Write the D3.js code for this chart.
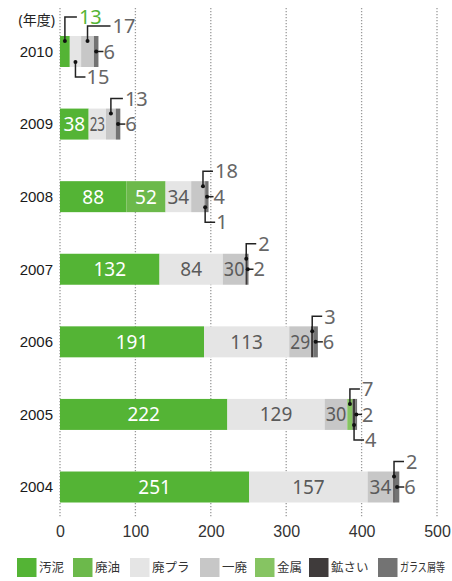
<!DOCTYPE html>
<html><head><meta charset="utf-8">
<script src="https://cdn.jsdelivr.net/npm/d3@7"></script>
<style>
html,body{margin:0;padding:0;background:#fff;}
svg{display:block;font-family:"Noto Sans","Noto Sans CJK JP",sans-serif;}
</style></head>
<body>
<svg id="chart" width="452" height="581"></svg>
<script>
// ---- data ----
const years = ["2010","2009","2008","2007","2006","2005","2004"];
const categories = ["汚泥","廃油","廃プラ","一廃","金属","鉱さい","ガラス屑等"];
const sludge   = [13, 38, 88, 132, 191, 222, 251];
const wasteOil = [0, 0, 52, 0, 0, 0, 0];
const plastic  = [15, 23, 34, 84, 113, 129, 157];
const general  = [17, 13, 18, 30, 29, 30, 34];
const metal    = [0, 0, 0, 0, 0, 7, 0];
const slag     = [0, 0, 1, 2, 3, 4, 2];
const glass    = [6, 6, 4, 2, 6, 2, 6];
const tickValues = [0, 100, 200, 300, 400, 500];
const yearTitle = "(年度)";

const seriesValues = [sludge, wasteOil, plastic, general, metal, slag, glass];
const colors = ["#54b435","#6cb94b","#e5e5e5","#c7c7c7","#86c462","#3f3b3b","#737373"];
const insideText = ["#fff","#fff","#5a5a5a","#5a5a5a","#fff","#fff","#fff"];

// callout placements (which value is labelled outside the bar, and where)
const callouts = [
  {year:"2010", cat:"汚泥", side:"above", level:2, len:12},
  {year:"2010", cat:"一廃", side:"above", level:1, len:23},
  {year:"2010", cat:"廃プラ", side:"below", len:10},
  {year:"2010", cat:"ガラス屑等", side:"right"},
  {year:"2009", cat:"一廃", side:"above", level:1, len:12},
  {year:"2009", cat:"ガラス屑等", side:"right"},
  {year:"2008", cat:"一廃", side:"above", level:1, len:10, dx:5},
  {year:"2008", cat:"ガラス屑等", side:"right"},
  {year:"2008", cat:"鉱さい", side:"below", len:10},
  {year:"2007", cat:"鉱さい", side:"above", level:1, len:10},
  {year:"2007", cat:"ガラス屑等", side:"right"},
  {year:"2006", cat:"鉱さい", side:"above", level:1, len:10},
  {year:"2006", cat:"ガラス屑等", side:"right"},
  {year:"2005", cat:"金属", side:"above", level:1, len:10},
  {year:"2005", cat:"ガラス屑等", side:"right"},
  {year:"2005", cat:"鉱さい", side:"below", len:10},
  {year:"2004", cat:"鉱さい", side:"above", level:1, len:10},
  {year:"2004", cat:"ガラス屑等", side:"right"}
];

// ---- layout ----
const svg = d3.select("#chart");
const x = d3.scaleLinear().domain([0, 500]).range([60, 437]);
const y = d3.scaleBand().domain(years).range([15.2, 523.3]).paddingInner(0.573).paddingOuter(0.2865);

// grid
svg.append("g").selectAll("line").data(tickValues).join("line")
  .attr("x1", d => x(d)).attr("x2", d => x(d))
  .attr("y1", 8).attr("y2", 518)
  .attr("stroke", "#9a9a9a").attr("stroke-width", 1.3).attr("stroke-dasharray", "1.3,1.7");

// x axis labels
const xAxis = d3.axisBottom(x).tickValues(tickValues).tickSize(0).tickPadding(0);
const gx = svg.append("g").attr("transform", "translate(0,525)").call(xAxis);
gx.select(".domain").remove();
gx.selectAll("text").attr("font-size", 16).attr("fill", "#333").attr("font-family", "inherit").attr("dy", "0.75em");

// y axis labels
const yAxis = d3.axisLeft(y).tickSize(0).tickPadding(0);
const gy = svg.append("g").attr("transform", "translate(53,0)").call(yAxis);
gy.select(".domain").remove();
gy.selectAll("text").attr("font-size", 15).attr("fill", "#1a1a1a").attr("font-family", "inherit").attr("dy", "0.36em");

svg.append("text").attr("x", 55).attr("y", 25).attr("text-anchor", "end")
  .attr("font-size", 14).attr("fill", "#222").text(yearTitle);

// stacked data
const rows = years.map((yr, i) => {
  const r = {year: yr};
  categories.forEach((c, k) => r[c] = seriesValues[k][i]);
  return r;
});
const stacked = d3.stack().keys(categories)(rows);

const segs = [];
stacked.forEach((layer, k) => {
  layer.forEach((d, i) => {
    segs.push({cat: categories[k], k, year: years[i], v: d[1] - d[0], x0: d[0], x1: d[1]});
  });
});
const segMap = {};
segs.forEach(s => segMap[s.year + "|" + s.cat] = s);

// bars
svg.append("g").selectAll("rect").data(segs.filter(s => s.v > 0)).join("rect")
  .attr("x", s => x(s.x0)).attr("width", s => x(s.x1) - x(s.x0))
  .attr("y", s => y(s.year)).attr("height", y.bandwidth())
  .attr("fill", s => colors[s.k]);

// inside labels
const calloutKeys = new Set(callouts.map(c => c.year + "|" + c.cat));
const inside = segs.filter(s => s.v > 0 && !calloutKeys.has(s.year + "|" + s.cat));
const gIn = svg.append("g");
inside.forEach(s => {
  const w = x(s.x1) - x(s.x0);
  const t = gIn.append("text")
    .attr("x", (x(s.x0) + x(s.x1)) / 2)
    .attr("y", y(s.year) + y.bandwidth() / 2)
    .attr("dy", "0.36em").attr("text-anchor", "middle")
    .attr("font-size", 19).attr("fill", insideText[s.k]).text(s.v);
  const tw = t.node().getComputedTextLength();
  if (tw > w - 3) {
    t.attr("textLength", w - 2).attr("lengthAdjust", "spacingAndGlyphs");
  }
});

// callouts
const gC = svg.append("g");
const totals = years.map((yr, i) => d3.sum(seriesValues, s => s[i]));
callouts.forEach(c => {
  const s = segMap[c.year + "|" + c.cat];
  const top = y(c.year), bot = top + y.bandwidth(), mid = top + y.bandwidth() / 2;
  const cx = (x(s.x0) + x(s.x1)) / 2 + (c.dx || 0);
  const end = x(totals[years.indexOf(c.year)]);
  let pts, dot, lx, ly;
  if (c.side === "above") {
    dot = [cx, top + 5];
    const hy = top - (c.level === 2 ? 19 : 10);
    pts = [dot, [cx, hy], [cx + c.len, hy]];
    lx = cx + c.len + 2; ly = hy;
  } else if (c.side === "below") {
    dot = [cx, bot - 5];
    const hy = bot + 10;
    pts = [dot, [cx, hy], [cx + c.len, hy]];
    lx = cx + c.len + 1; ly = hy;
  } else {
    dot = [cx, mid];
    pts = [dot, [end + 5, mid]];
    lx = end + 5; ly = mid;
  }
  gC.append("path").attr("d", d3.line()(pts)).attr("fill", "none")
    .attr("stroke", "#222").attr("stroke-width", 1.5);
  gC.append("circle").attr("cx", dot[0]).attr("cy", dot[1]).attr("r", 2).attr("fill", "#111");
  gC.append("text").attr("x", lx).attr("y", ly).attr("dy", "0.36em")
    .attr("font-size", 20).attr("fill", c.cat === "汚泥" ? colors[0] : "#666").text(s.v);
});

// legend
const legendX = [17, 73, 130, 200, 255, 309, 378];
const gL = svg.append("g");
categories.forEach((c, k) => {
  gL.append("rect").attr("x", legendX[k]).attr("y", 558).attr("width", 19.5).attr("height", 19)
    .attr("fill", colors[k]);
  const tx = legendX[k] + 22;
  const t = gL.append("text").attr("x", 0).attr("y", 0).attr("dy", "0.36em")
    .attr("font-size", 12.5).attr("fill", "#333").text(c);
  const tw = t.node().getComputedTextLength();
  const sx = (c === "ガラス屑等") ? 45 / tw : 1;
  t.attr("transform", `translate(${tx},567.5) scale(${sx},1)`);
});
</script>
</body></html>
